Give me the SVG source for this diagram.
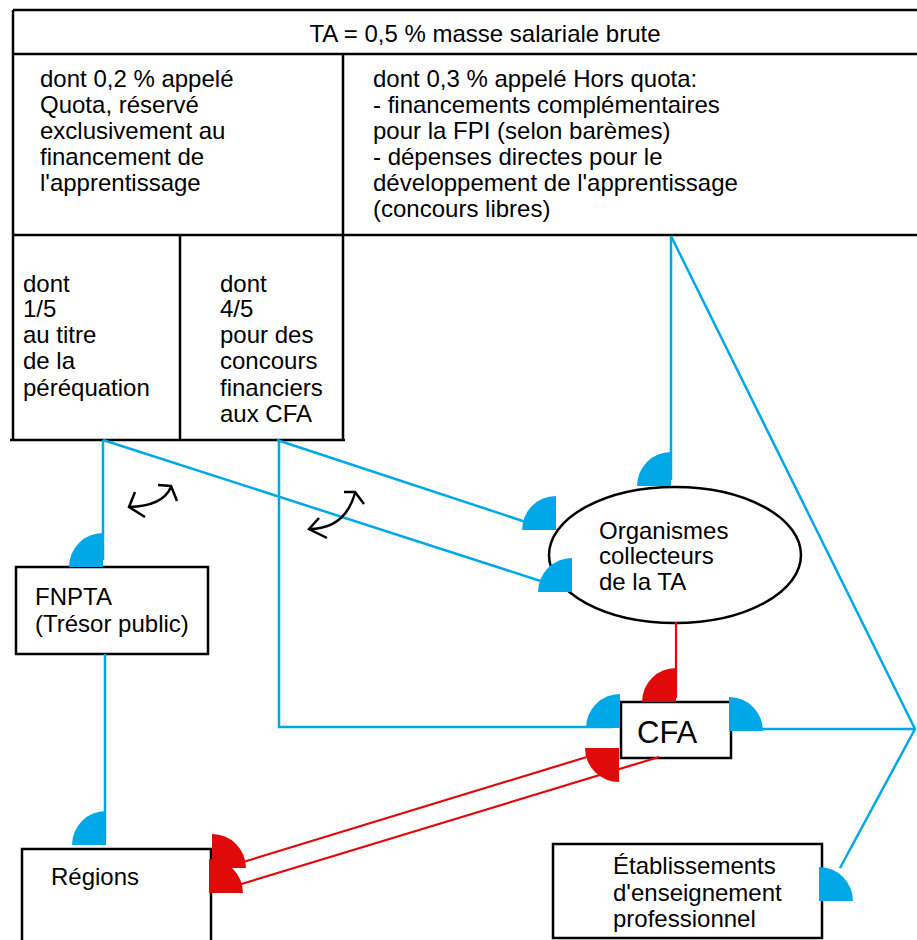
<svg xmlns="http://www.w3.org/2000/svg" xmlns:xlink="http://www.w3.org/1999/xlink" width="917" height="940" viewBox="0 0 917 940">
<style>
text{font-family:"Liberation Sans",Arial,sans-serif;font-size:24px;fill:#000}
.big{font-size:31px}
.tb{stroke:#000;stroke-width:2.5;fill:none}
.box{stroke:#000;stroke-width:2.5;fill:#fff}
.bl{stroke:#00a8e8;stroke-width:2.5;fill:none}
.rd{stroke:#e00a0a;stroke-width:2.2;fill:none}
.pb{fill:#00a8e8}
.pr{fill:#e00a0a}
.cv{stroke:#000;stroke-width:2.5;fill:none}
</style>
<defs>
<path id="q" d="M0,0 H-34 A34,34 0 0 1 0,-34 Z"/>
</defs>
<rect width="917" height="940" fill="#fff"/>
<g id="table">
<line class="tb" x1="13" y1="10" x2="917" y2="10"/>
<line class="tb" x1="13" y1="54" x2="917" y2="54"/>
<line class="tb" x1="13" y1="235" x2="917" y2="235"/>
<line class="tb" x1="13" y1="10" x2="13" y2="440"/>
<line class="tb" x1="343" y1="54" x2="343" y2="440"/>
<line class="tb" x1="180" y1="235" x2="180" y2="440"/>
<line class="tb" x1="10" y1="440" x2="345" y2="440"/>
<text x="485" y="42" text-anchor="middle">TA = 0,5 % masse salariale brute</text>
<text x="40" y="87">dont 0,2 % appelé</text>
<text x="40" y="113">Quota, réservé</text>
<text x="40" y="139">exclusivement au</text>
<text x="40" y="165">financement de</text>
<text x="40" y="191">l'apprentissage</text>
<text x="373" y="87">dont 0,3 % appelé Hors quota:</text>
<text x="373" y="113">- financements complémentaires</text>
<text x="373" y="139">pour la FPI (selon barèmes)</text>
<text x="373" y="165">- dépenses directes pour le</text>
<text x="373" y="191">développement de l'apprentissage</text>
<text x="373" y="217">(concours libres)</text>
<text x="23" y="292">dont</text>
<text x="23" y="317">1/5</text>
<text x="23" y="343">au titre</text>
<text x="23" y="369">de la</text>
<text x="23" y="396">péréquation</text>
<text x="220" y="292">dont</text>
<text x="220" y="317">4/5</text>
<text x="220" y="343">pour des</text>
<text x="220" y="369">concours</text>
<text x="220" y="396">financiers</text>
<text x="220" y="422">aux CFA</text>
</g>
<g id="fnpta">
<rect class="box" x="16" y="567" width="192" height="87"/>
<text x="35" y="605">FNPTA</text>
<text x="35" y="632">(Trésor public)</text>
</g>
<g id="organismes">
<ellipse class="box" cx="675" cy="555" rx="126" ry="68"/>
<text x="599" y="539">Organismes</text>
<text x="599" y="564">collecteurs</text>
<text x="599" y="590">de la TA</text>
</g>
<g id="cfa">
<rect class="box" x="621" y="702" width="110" height="56"/>
<text class="big" x="637" y="743">CFA</text>
</g>
<g id="regions">
<rect class="box" x="22" y="849" width="189" height="95"/>
<text x="51" y="885">Régions</text>
</g>
<g id="etablissements">
<rect class="box" x="553" y="844" width="269" height="94"/>
<text x="613" y="874">Établissements</text>
<text x="613" y="901">d'enseignement</text>
<text x="613" y="927">professionnel</text>
</g>
<g id="connectors">
<line class="bl" x1="103" y1="440" x2="103" y2="560"/>
<line class="bl" x1="103" y1="440" x2="550" y2="584"/>
<line class="bl" x1="277" y1="440" x2="535" y2="525"/>
<polyline class="bl" points="279,440 279,727 612,727"/>
<line class="bl" x1="671" y1="236" x2="671" y2="480"/>
<polyline class="bl" points="671,236 915,729 840,868"/>
<line class="bl" x1="915" y1="729" x2="735" y2="729"/>
<line class="bl" x1="105" y1="654" x2="105" y2="840"/>
<line class="rd" x1="676" y1="622" x2="676" y2="698"/>
<line class="rd" x1="240" y1="863" x2="590" y2="756"/>
<line class="rd" x1="238" y1="885" x2="659" y2="757"/>
<use xlink:href="#q" class="pb" transform="translate(103,567)"/>
<use xlink:href="#q" class="pb" transform="translate(106,845)"/>
<use xlink:href="#q" class="pb" transform="translate(671,486)"/>
<use xlink:href="#q" class="pb" transform="translate(556,530)"/>
<use xlink:href="#q" class="pb" transform="translate(572,592)"/>
<use xlink:href="#q" class="pb" transform="translate(620,728)"/>
<use xlink:href="#q" class="pb" transform="translate(729,731) scale(-1,1)"/>
<use xlink:href="#q" class="pb" transform="translate(819,901) scale(-1,1)"/>
<use xlink:href="#q" class="pr" transform="translate(676,702)"/>
<use xlink:href="#q" class="pr" transform="translate(209,893) scale(-1,1)"/>
<use xlink:href="#q" class="pr" transform="translate(212,868) scale(-1,1)"/>
<use xlink:href="#q" class="pr" transform="translate(619,748) scale(1,-1)"/>
<path class="cv" d="M129,507 Q163,506 171,487"/>
<polyline class="cv" points="135,492 129,507 145,517"/>
<polyline class="cv" points="158,485 171,486 177,501"/>
<path class="cv" d="M309,529 Q345,529 355,493"/>
<polyline class="cv" points="319,518 309,529 327,538"/>
<polyline class="cv" points="344,492 355,492 364,504"/>
</g>
</svg>
